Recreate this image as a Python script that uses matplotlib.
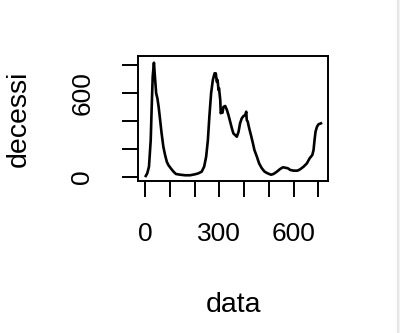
import matplotlib
matplotlib.use("Agg")
import matplotlib.pyplot as plt
from matplotlib.patches import Rectangle

# values (day index, daily deaths)
giorni = [3, 9, 16, 23, 27, 31, 36, 40, 45, 50, 55, 61, 67, 74, 81, 88, 94,
          104, 115, 125, 142, 162, 182, 202, 216, 229, 239, 247, 254, 260,
          267, 274, 281, 286, 290, 293, 297, 299, 304, 306, 309, 313, 317,
          324, 331, 337, 344, 351, 357, 364, 371, 378, 384, 391, 398, 405,
          409, 411, 415, 421, 428, 436, 442, 452, 461, 472, 483, 495, 509,
          519, 533, 546, 557, 567, 577, 587, 600, 616, 627, 641, 654, 665,
          676, 681, 685, 689, 695, 701, 711]
decessi = [5, 24, 72, 262, 500, 716, 816, 716, 597, 561, 500, 406, 310, 215,
           155, 107, 84, 60, 36, 19, 14, 10, 10, 17, 24, 36, 72, 143, 262,
           430, 597, 692, 740, 740, 680, 692, 621, 633, 549, 454, 465, 458,
           500, 506, 477, 442, 394, 346, 310, 298, 286, 322, 382, 418, 434,
           442, 465, 406, 394, 346, 298, 239, 191, 143, 95, 60, 36, 24, 14,
           19, 36, 55, 67, 64, 60, 48, 43, 43, 53, 72, 95, 131, 155, 191,
           262, 322, 358, 375, 382]

xticks = [0, 100, 200, 300, 400, 500, 600, 700]
xlabels = ["0", "", "", "300", "", "", "600", ""]
yticks = [0, 200, 400, 600, 800]
ylabels = ["0", "", "", "600", ""]

plt.rcParams["font.family"] = ["Liberation Sans", "DejaVu Sans"]

fig = plt.figure(figsize=(4, 3.33), dpi=100)
ax = fig.add_axes([0.345, 0.4565, 0.475, 0.3753])
ax.plot(giorni, decessi, color="black", linewidth=1.9)

ax.set_xlim(-28.4, 739.4)
ax.set_ylim(-31, 864)
ax.set_xticks(xticks)
ax.set_xticklabels(xlabels)
ax.set_yticks(yticks)
ax.set_yticklabels(ylabels, rotation=90, va="center")

for s in ax.spines.values():
    s.set_linewidth(1.4)
ax.tick_params(axis="both", direction="out", length=11.5, width=1.4,
               labelsize=19, color="black")
ax.tick_params(axis="x", pad=18)
ax.tick_params(axis="y", pad=20)

fig.text(0.583, 0.084, "data", ha="center", va="center", fontsize=20.5)
fig.text(0.048, 0.644, "decessi", ha="center", va="center", fontsize=20.5,
         rotation=90)

# light grey edge at the right of the screenshot
fig.patches.append(Rectangle((0.993, 0), 0.005, 1, transform=fig.transFigure,
                             color="#e6e6e6", zorder=0))
fig.patches.append(Rectangle((0.998, 0), 0.002, 1, transform=fig.transFigure,
                             color="#f3f3f3", zorder=0))

fig.savefig("out.png", dpi=100)
